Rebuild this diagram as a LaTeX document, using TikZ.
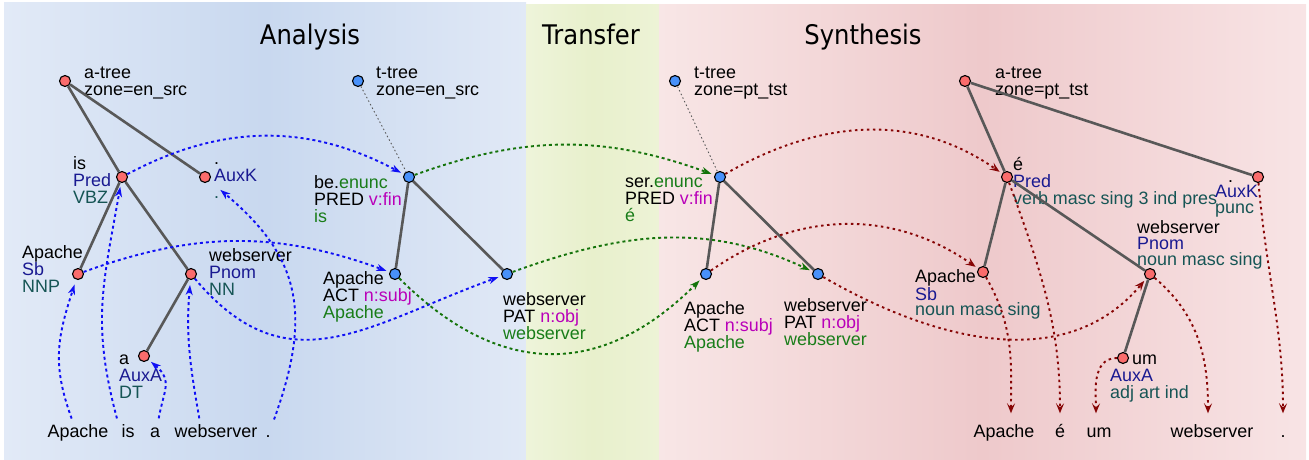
\documentclass[tikz,border=0pt]{standalone}
\usepackage{fontspec}
\setmainfont{Liberation Sans}
\newfontfamily\titlefont[FakeStretch=0.9]{DejaVu Sans}
\usetikzlibrary{arrows.meta, calc, positioning}

\definecolor{anodecol}{RGB}{250,108,108}
\definecolor{tnodecol}{RGB}{72,145,250}
\definecolor{edgecol}{RGB}{88,88,88}
\definecolor{afuncol}{RGB}{25,25,145}
\definecolor{tagcol}{RGB}{22,85,85}
\definecolor{grcol}{RGB}{25,125,25}
\definecolor{mgcol}{RGB}{185,0,185}
\definecolor{blcol}{RGB}{15,15,245}
\definecolor{gncol}{RGB}{20,115,10}
\definecolor{rdcol}{RGB}{135,5,5}

\newcommand{\afn}[1]{\textcolor{afuncol}{#1}}
\newcommand{\tgn}[1]{\textcolor{tagcol}{#1}}
\newcommand{\grn}[1]{\textcolor{grcol}{#1}}
\newcommand{\mgn}[1]{\textcolor{mgcol}{#1}}

\begin{document}
\begin{tikzpicture}[x=1pt, y=1pt, font=\fontsize{17.9}{17}\selectfont,
		anode/.style = {draw, circle, fill=anodecol, line width=1.1pt, minimum size=11pt, inner sep=0pt},
		tnode/.style = {draw, circle, fill=tnodecol, line width=1.1pt, minimum size=11pt, inner sep=0pt},
		lbl/.style = {align=left, inner sep=0pt, anchor=west, execute at begin node=\strut, execute at end node=\strut},
		word/.style = {anchor=base, inner sep=2pt, text height=12.5pt, text depth=3.5pt},
		title/.style = {anchor=base, font=\titlefont\fontsize{27}{27}\selectfont},
		edge/.style = {draw=edgecol, line width=2.6pt},
		zline/.style = {draw=edgecol, line width=0.9pt, dash pattern=on 1.5pt off 2.5pt},
		blink/.style = {blcol, line width=1.9pt, dash pattern=on 3pt off 3pt, -{Stealth[length=10pt,width=7pt,inset=3pt]}},
		glink/.style = {gncol, line width=1.9pt, dash pattern=on 3pt off 3pt, -{Stealth[length=10pt,width=7pt,inset=3pt]}},
		rlink/.style = {rdcol, line width=1.9pt, dash pattern=on 2.5pt off 3.5pt, -{Stealth[length=10pt,width=8pt,inset=4pt]}}]
		\useasboundingbox (0,0) rectangle (1309,459);
		\shade[left color={rgb,255:red,226;green,234;blue,247}, right color={rgb,255:red,225;green,233;blue,246}, middle color={rgb,255:red,200;green,216;blue,239}] (4,0) rectangle (526,456);
		\shade[left color={rgb,255:red,238;green,244;blue,218}, right color={rgb,255:red,237;green,243;blue,214}, middle color={rgb,255:red,232;green,240;blue,204}] (526,0) rectangle (659,454);
		\shade[left color={rgb,255:red,248;green,230;blue,230}, right color={rgb,255:red,248;green,228;blue,229}, middle color={rgb,255:red,238;green,201;blue,203}] (659,0) rectangle (1306,454);

		\node[title] (tanalysis) at (310,414) {Analysis};
		\node[title] (ttransfer) at (591,414) {Transfer};
		\node[title] (tsynthesis) at (863,414) {Synthesis};

		\node[anode] (ar) at (65,378) {};
		\node[anode] (ais) at (122,282) {};
		\node[anode] (aauxk) at (205,282) {};
		\node[anode] (aapache) at (78,185) {};
		\node[anode] (aweb) at (191,185) {};
		\node[anode] (aa) at (144,103) {};
		\node[lbl] (arl) at (84,375) {a-tree\\zone=en\_src};
		\node[lbl] (aisl) at (73,276) {is\\\afn{Pred}\\\tgn{VBZ}};
		\node[lbl] (aauxkl) at (214,276) {.\\\afn{AuxK}\\\tgn{.}};
		\node[lbl] (aapachel) at (22,187) {Apache\\\afn{Sb}\\\tgn{NNP}};
		\node[lbl] (awebl) at (209,184) {webserver\\\afn{Pnom}\\\tgn{NN}};
		\node[lbl] (aal) at (119,80) {a\\\afn{AuxA}\\\tgn{DT}};

		\node[tnode] (tr) at (358,378) {};
		\node[tnode] (tbe) at (409,282) {};
		\node[tnode] (tapache) at (395,185) {};
		\node[tnode] (tweb) at (507,185) {};
		\node[lbl] (trl) at (376,375) {t-tree\\zone=en\_src};
		\node[lbl] (tbel) at (314,257) {be.\grn{enunc}\\PRED \mgn{v:fin}\\\grn{is}};
		\node[lbl] (tapachel) at (323,161) {Apache\\ACT \mgn{n:subj}\\\grn{Apache}};
		\node[lbl] (twebl) at (503,140) {webserver\\PAT \mgn{n:obj}\\\grn{webserver}};

		\node[tnode] (tr2) at (675,378) {};
		\node[tnode] (tser) at (720,282) {};
		\node[tnode] (tapache2) at (706,185) {};
		\node[tnode] (tweb2) at (818,185) {};
		\node[lbl] (tr2l) at (694,375) {t-tree\\zone=pt\_tst};
		\node[lbl] (tserl) at (625,257) {ser.\grn{enunc}\\PRED \mgn{v:fin}\\\grn{é}};
		\node[lbl] (tapache2l) at (684,131) {Apache\\ACT \mgn{n:subj}\\\grn{Apache}};
		\node[lbl] (tweb2l) at (784,134) {webserver\\PAT \mgn{n:obj}\\\grn{webserver}};

		\node[anode] (ar2) at (965,378) {};
		\node[anode] (ae) at (1007,282) {};
		\node[anode] (aauxk2) at (1258,282) {};
		\node[anode] (aapache2) at (983,187) {};
		\node[anode] (aweb2) at (1150,185) {};
		\node[anode] (aum) at (1123,101) {};
		\node[lbl] (ar2l) at (995,375) {a-tree\\zone=pt\_tst};
		\node[lbl] (ael) at (1013,276) {é\\\afn{Pred}\\\tgn{verb masc sing 3 ind pres}};
		\node[lbl, font=\fontsize{17.9}{15.5}\selectfont] (aauxk2l) at (1215,260) {\hspace*{13pt}.\\\afn{AuxK}\\\tgn{punc}};
		\node[lbl, font=\fontsize{17.9}{15.8}\selectfont] (aapache2l) at (915,164) {Apache\\\afn{Sb}\\\tgn{noun masc sing}};
		\node[lbl, font=\fontsize{17.9}{16}\selectfont] (aweb2l) at (1137,214) {webserver\\\afn{Pnom}\\\tgn{noun masc sing}};
		\node[lbl] (auml) at (1110,80) {\hspace*{22pt}um\\\afn{AuxA}\\\tgn{adj art ind}};

		\node[word] (wapache) at (78,22) {Apache};
		\node[word] (wis) at (128,22) {is};
		\node[word] (wa) at (155,22) {a};
		\node[word] (wweb) at (216,22) {webserver};
		\node[word] (wdot) at (268,22) {.};
		\node[word] (wapache2) at (1004,22) {Apache};
		\node[word] (we) at (1060,22) {é};
		\node[word] (wum) at (1099,22) {um};
		\node[word] (wweb2) at (1212,22) {webserver};
		\node[word] (wdot2) at (1283,22) {.};

		\draw[edge] (ar) -- (ais);
		\draw[edge] (ar) -- (aauxk);
		\draw[edge] (ais) -- (aapache);
		\draw[edge] (ais) -- (aweb);
		\draw[edge] (aweb) -- (aa);
		\draw[edge] (tbe) -- (tapache);
		\draw[edge] (tbe) -- (tweb);
		\draw[edge] (tser) -- (tapache2);
		\draw[edge] (tser) -- (tweb2);
		\draw[edge] (ar2) -- (ae);
		\draw[edge] (ar2) -- (aauxk2);
		\draw[edge] (ae) -- (aapache2);
		\draw[edge] (ae) -- (aweb2);
		\draw[edge] (aweb2) -- (aum);
		\draw[zline] (tr) -- (tbe);
		\draw[zline] (tr2) -- (tser);

		\draw[blink, shorten <=4pt, shorten >=5pt] ([xshift=-5pt]wapache.north) to [out=110, in=-108, looseness=1.1] (aapache);
		\draw[blink, shorten <=4pt, shorten >=4pt] ([xshift=-10pt]wis.north) to [out=105, in=-100, looseness=1.1] (ais);
		\draw[blink, shorten <=4pt, shorten >=3pt] ([xshift=3pt]wa.north) to [out=80, in=-40, looseness=1.3] (aa);
		\draw[blink, shorten <=4pt, shorten >=5pt] ([xshift=-16pt]wweb.north) to [out=100, in=-95] (aweb);
		\draw[blink, shorten <=3pt, shorten >=14pt] ([xshift=5pt]wdot.north) to [out=70, in=-40, looseness=1.2] (aauxk);
		\draw[blink, shorten >=3pt] (ais) to [out=28, in=152] (tbe);
		\draw[blink, shorten >=3pt] (aapache) to [out=20, in=160] (tapache);
		\draw[blink, shorten >=3pt] (aweb) to [out=-50, in=200, looseness=1.2] (tweb);

		\draw[glink, shorten >=3pt] (tbe) to [out=20, in=160] (tser);
		\draw[glink, shorten >=3pt] (tapache) to [out=-45, in=-135, looseness=1.2] (tapache2);
		\draw[glink, shorten >=3pt] (tweb) to [out=20, in=155] (tweb2);

		\draw[rlink, shorten >=3pt] (tser) to [out=30, in=145] (ae);
		\draw[rlink, shorten >=3pt] (tapache2) to [out=35, in=145] (aapache2);
		\draw[rlink, shorten >=3pt] (tweb2) to [out=-30, in=-130] (aweb2);

		\draw[rlink, shorten >=9pt] (aapache2) to [out=-60, in=90] ([xshift=7pt]wapache2.north);
		\draw[rlink, shorten >=9pt] (ae) to [out=-70, in=90] (we.north);
		\draw[rlink, shorten >=9pt] (aum) to [out=180, in=90] ([xshift=-3pt]wum.north);
		\draw[rlink, shorten >=9pt] (aweb2) to [out=-40, in=90] ([xshift=-4pt]wweb2.north);
		\draw[rlink, shorten >=9pt] (aauxk2) to [out=-85, in=90] (wdot2.north);
\end{tikzpicture}
\end{document}
